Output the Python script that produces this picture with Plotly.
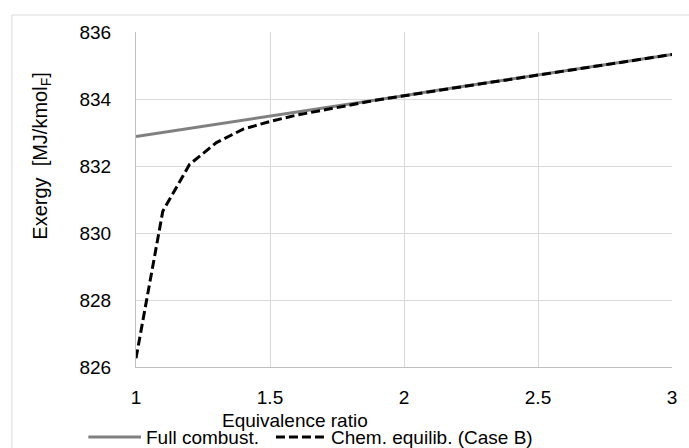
import plotly.graph_objects as go

# Data
phi = [1.0, 1.1, 1.2, 1.3, 1.4, 1.5, 1.6, 1.7, 1.8, 1.9, 2.0,
       2.1, 2.2, 2.3, 2.4, 2.5, 2.6, 2.7, 2.8, 2.9, 3.0]
full_combust = [832.88, 833.00, 833.13, 833.25, 833.37, 833.49, 833.62, 833.74,
                833.86, 833.98, 834.10, 834.23, 834.35, 834.47, 834.59, 834.72,
                834.84, 834.96, 835.08, 835.21, 835.33]
chem_equilib = [826.26, 830.65, 832.05, 832.70, 833.10, 833.33, 833.52, 833.68,
                833.82, 833.97, 834.10, 834.23, 834.35, 834.47, 834.59, 834.72,
                834.84, 834.96, 835.08, 835.21, 835.33]
series_names = ["Full combust.", "Chem. equilib. (Case B)"]
x_ticks = [1, 1.5, 2, 2.5, 3]
x_tick_labels = ["1", "1.5", "2", "2.5", "3"]
y_ticks = [826, 828, 830, 832, 834, 836]

W, H = 689, 448
L, R, T, B = 136, 13, 32, 81
pw, ph = W - L - R, H - T - B

def px(xp):
    return (xp - L) / pw

def py(yp):
    return (H - B - yp) / ph

FONT = "Liberation Sans, Arial, sans-serif"
FS = 19
LFS = 19
GRAY = "#808080"
DASH = "9px,4px"

fig = go.Figure()
fig.add_trace(go.Scatter(x=phi, y=full_combust, mode="lines", name=series_names[0],
                         line=dict(color=GRAY, width=3), showlegend=False))
fig.add_trace(go.Scatter(x=phi, y=chem_equilib, mode="lines", name=series_names[1],
                         line=dict(color="#000000", width=3, dash=DASH), showlegend=False))

leg_y = py(437)
shapes = [
    dict(type="rect", xref="paper", yref="paper", x0=px(11), x1=px(700), y0=py(460), y1=py(15),
         line=dict(color="#d9d9d9", width=1), layer="below"),
    dict(type="line", xref="paper", yref="paper", x0=px(88), x1=px(141), y0=leg_y, y1=leg_y,
         line=dict(color=GRAY, width=3)),
    dict(type="line", xref="paper", yref="paper", x0=px(277), x1=px(329), y0=leg_y, y1=leg_y,
         line=dict(color="#000000", width=3, dash=DASH)),
]

annotations = [
    dict(text="Equivalence ratio", xref="paper", yref="paper", x=px(296), y=py(420),
         showarrow=False, xanchor="center", yanchor="middle", font=dict(size=FS)),
    dict(text="Exergy\u00a0\u00a0[MJ/kmol<sub>F</sub>]", xref="paper", yref="paper",
         x=px(40), y=py(156), textangle=-90, showarrow=False,
         xanchor="center", yanchor="middle", font=dict(size=20)),
    dict(text=series_names[0], xref="paper", yref="paper", x=px(144), y=leg_y,
         showarrow=False, xanchor="left", yanchor="middle", font=dict(size=LFS)),
    dict(text=series_names[1], xref="paper", yref="paper", x=px(330), y=leg_y,
         showarrow=False, xanchor="left", yanchor="middle", font=dict(size=LFS)),
]

fig.update_layout(
    width=W, height=H,
    margin=dict(l=L, r=R, t=T, b=B),
    paper_bgcolor="white", plot_bgcolor="white",
    font=dict(family=FONT, size=FS, color="#000000"),
    showlegend=False,
    xaxis=dict(range=[1, 3], tickvals=x_ticks, ticktext=x_tick_labels,
               showgrid=True, gridcolor="#d9d9d9", gridwidth=1,
               showline=True, linecolor="#bfbfbf", linewidth=1,
               zeroline=False, ticks="", tickfont=dict(size=FS), ticklabelstandoff=13),
    yaxis=dict(range=[826, 836], tickvals=y_ticks,
               showgrid=True, gridcolor="#d9d9d9", gridwidth=1,
               showline=True, linecolor="#bfbfbf", linewidth=1,
               zeroline=False, ticks="", tickfont=dict(size=FS), ticklabelstandoff=20),
    annotations=annotations,
    shapes=shapes,
)

fig.write_html("out.html", config={"displayModeBar": False},
               post_script="document.body.style.margin='0';document.body.style.overflow='hidden';")
